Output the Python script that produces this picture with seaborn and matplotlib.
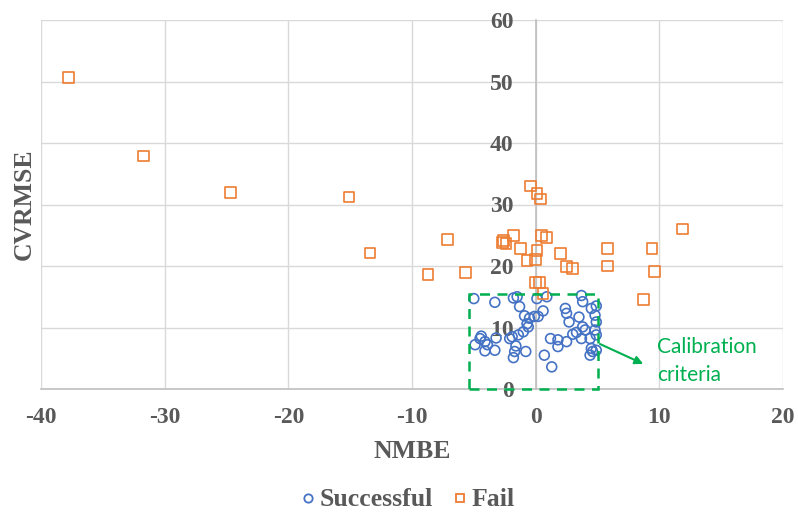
import numpy as np
import pandas as pd
import seaborn as sns
import matplotlib.pyplot as plt
from matplotlib.patches import Rectangle
from matplotlib.lines import Line2D

# Data
fail_nmbe = [-37.8, -31.7, -24.7, -15.1, -13.4, -7.1, -8.7, -5.7, -0.4, 0.1, 0.4,
             -1.8, -2.6, -2.4, -2.7, -1.2, 0.5, 0.9, 0.1, -0.7, 0.0, 2.0, 2.5, 3.0,
             5.8, 5.8, 0.0, 0.3, 0.6, 8.7, 9.4, 9.6, 11.9]
fail_cvrmse = [50.7, 37.9, 32.0, 31.2, 22.1, 24.3, 18.6, 18.9, 33.0, 31.8, 30.9,
               25.0, 24.1, 23.6, 23.8, 22.8, 25.0, 24.6, 22.5, 20.9, 21.0, 22.0, 19.9, 19.6,
               22.8, 20.0, 17.3, 17.3, 15.5, 14.5, 22.9, 19.1, 26.0]

succ_nmbe = [-5.0, -3.3, -1.8, -1.5, -1.3, -0.9, -0.5, -0.1, 0.2, 0.1, 0.6, 0.9,
             -0.7, -0.6, -1.0, -1.4, -1.9, -2.1, -4.4, -4.5, -4.1, -3.2, -4.9, -3.9,
             -4.1, -3.3, -1.6, -1.7, -1.8, -0.8, 0.7, 1.3, 1.2, 1.8, 1.8, 2.5, 3.0,
             3.3, 2.4, 2.5, 2.7, 3.5, 3.7, 3.8, 3.8, 4.0, 3.7, 4.4, 4.5, 4.9, 4.8,
             4.9, 4.8, 4.9, 4.5, 4.6, 4.4, 4.9]
succ_cvrmse = [14.7, 14.1, 14.8, 15.0, 13.4, 11.9, 11.5, 11.8, 11.8, 14.7, 12.7, 15.0,
               10.6, 10.1, 9.3, 8.8, 8.5, 8.2, 8.6, 8.2, 7.7, 8.3, 7.2, 7.2,
               6.2, 6.3, 7.0, 6.1, 5.1, 6.1, 5.5, 3.6, 8.2, 8.0, 6.9, 7.7, 8.9,
               9.2, 13.1, 12.3, 10.9, 11.7, 15.2, 14.2, 10.1, 9.6, 8.2, 8.2, 13.1, 13.5, 12.0,
               10.9, 9.6, 8.8, 6.6, 6.1, 5.5, 6.3]

# calibration box limits
box_x = [-5.4, 5.0]
box_y = [0, 15.4]

x_ticks = [-40, -30, -20, -10, 0, 10, 20]
y_ticks = [0, 10, 20, 30, 40, 50, 60]

blue = '#4472C4'
orange = '#ED7D31'
green = '#00B050'
gray = '#595959'

df = pd.DataFrame({
    'NMBE': succ_nmbe + fail_nmbe,
    'CVRMSE': succ_cvrmse + fail_cvrmse,
    'Result': ['Successful'] * len(succ_nmbe) + ['Fail'] * len(fail_nmbe),
})

sns.set_style('white')
plt.rcParams['font.family'] = ['Liberation Serif', 'DejaVu Serif']
plt.rcParams['axes.unicode_minus'] = False

fig = plt.figure(figsize=(7.98, 5.16), dpi=100)
ax = fig.add_axes([41 / 798, 1 - 389 / 516, 742 / 798, 369 / 516])

succ = df[df['Result'] == 'Successful']
fail = df[df['Result'] == 'Fail']
sns.scatterplot(data=succ, x='NMBE', y='CVRMSE', marker='o', s=50,
                facecolor='none', edgecolor=blue, linewidth=1.2, ax=ax, zorder=3)
sns.scatterplot(data=fail, x='NMBE', y='CVRMSE', marker='s', s=60,
                facecolor='none', edgecolor=orange, linewidth=1.2, ax=ax, zorder=3)

ax.set_xlim(-40, 20)
ax.set_ylim(0, 60)
ax.set_xticks(x_ticks)
ax.set_yticks(y_ticks)
ax.grid(True, color='#d9d9d9', linewidth=1)
ax.set_axisbelow(True)

for side in ['top', 'right']:
    ax.spines[side].set_visible(False)
ax.spines['left'].set_position(('data', 0))
ax.spines['left'].set_color('#bfbfbf')
ax.spines['bottom'].set_color('#bfbfbf')
ax.spines['left'].set_linewidth(1.2)
ax.spines['bottom'].set_linewidth(1.2)

ax.tick_params(axis='both', length=0, labelsize=17, labelcolor=gray)
ax.tick_params(axis='x', pad=13)
ax.tick_params(axis='y', pad=16)
for lab in ax.get_xticklabels() + ax.get_yticklabels():
    lab.set_fontweight('bold')

ax.set_xlabel('')
ax.set_ylabel('')
fig.text(412 / 798, 1 - 452 / 516, 'NMBE', fontsize=18.5, fontweight='bold',
         color=gray, ha='center', va='center')
fig.text(24 / 798, 1 - 204 / 516, 'CVRMSE', rotation=90, fontsize=18.5,
         fontweight='bold', color=gray, ha='center', va='center')

# calibration criteria box and note
ax.add_patch(Rectangle((box_x[0], box_y[0]), box_x[1] - box_x[0], box_y[1] - box_y[0],
                       fill=False, edgecolor=green, linestyle=(0, (4, 3)),
                       linewidth=1.8, zorder=4, clip_on=False))
ax.annotate('', xy=(8.9, 3.9), xytext=(5.0, 7.5),
            arrowprops=dict(arrowstyle='-|>', color=green, lw=1.5, mutation_scale=12))
ax.text(9.8, 4.6, 'Calibration\ncriteria', color=green, fontsize=15,
        family=['Lato', 'DejaVu Sans'], ha='left', va='center', linespacing=1.5)

handles = [
    Line2D([], [], marker='o', linestyle='none', markerfacecolor='none',
           markeredgecolor=blue, markersize=6, markeredgewidth=1.3, label='Successful'),
    Line2D([], [], marker='s', linestyle='none', markerfacecolor='none',
           markeredgecolor=orange, markersize=6, markeredgewidth=1.3, label='Fail'),
]
leg = fig.legend(handles=handles, loc='center', bbox_to_anchor=(405 / 798, 1 - 500 / 516),
                 ncol=2, frameon=False, handletextpad=-0.05, columnspacing=0.55,
                 handlelength=1.0, prop={'size': 18.5, 'weight': 'bold'})
for t in leg.get_texts():
    t.set_color(gray)

fig.savefig('out.png', dpi=100)
